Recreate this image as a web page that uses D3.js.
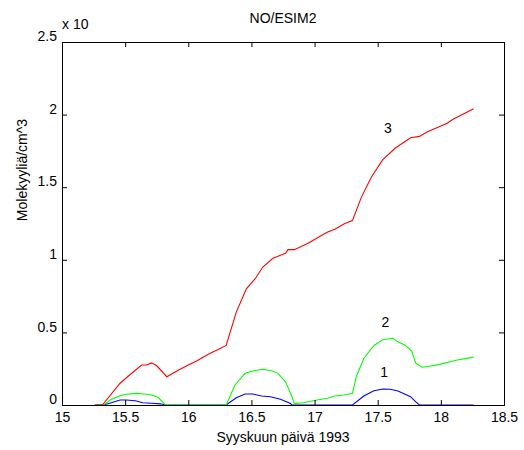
<!DOCTYPE html>
<html>
<head>
<meta charset="utf-8">
<script src="https://cdn.jsdelivr.net/npm/d3@7"></script>
<style>
  body { margin: 0; background: #fff; }
  svg { font-family: "Liberation Sans", Arial, sans-serif; }
</style>
</head>
<body>
<div id="chart"></div>
<script>
// series 1 (blue)
const s1x = [15.26, 15.33, 15.39, 15.46, 15.51, 15.58, 15.64, 15.71, 15.78, 15.82, 16.30, 16.38, 16.45, 16.51, 16.58, 16.65, 16.73, 16.81, 16.82, 17.30, 17.39, 17.47, 17.54, 17.60, 17.66, 17.76, 17.80, 17.83, 18.26];
const s1y = [0, 0, 0.016, 0.034, 0.034, 0.029, 0.016, 0.012, 0.008, 0, 0, 0.05, 0.076, 0.076, 0.062, 0.057, 0.039, 0.01, 0, 0, 0.062, 0.098, 0.11, 0.108, 0.096, 0.057, 0.023, 0, 0];

// series 2 (green)
const s2x = [15.26, 15.33, 15.39, 15.46, 15.51, 15.59, 15.63, 15.70, 15.76, 15.82, 16.30, 16.37, 16.45, 16.51, 16.59, 16.66, 16.71, 16.77, 16.81, 16.84, 16.91, 17.02, 17.10, 17.16, 17.23, 17.30, 17.33, 17.39, 17.47, 17.54, 17.62, 17.66, 17.72, 17.77, 17.80, 17.85, 17.90, 17.99, 18.13, 18.26];
const s2y = [0, 0, 0.04, 0.064, 0.074, 0.08, 0.078, 0.071, 0.053, 0, 0, 0.138, 0.218, 0.234, 0.246, 0.236, 0.218, 0.16, 0.08, 0.01, 0.016, 0.034, 0.046, 0.062, 0.069, 0.08, 0.195, 0.32, 0.41, 0.45, 0.46, 0.435, 0.41, 0.37, 0.29, 0.26, 0.265, 0.28, 0.31, 0.33];

// series 3 (red)
const s3x = [15.26, 15.32, 15.46, 15.54, 15.63, 15.67, 15.71, 15.75, 15.83, 15.92, 16.00, 16.07, 16.12, 16.17, 16.22, 16.30, 16.38, 16.46, 16.53, 16.59, 16.67, 16.77, 16.79, 16.84, 16.94, 16.98, 17.04, 17.10, 17.16, 17.24, 17.30, 17.37, 17.45, 17.54, 17.64, 17.76, 17.83, 17.89, 18.05, 18.10, 18.26];
const s3y = [0, 0, 0.15, 0.21, 0.275, 0.275, 0.29, 0.27, 0.195, 0.24, 0.275, 0.305, 0.33, 0.355, 0.375, 0.41, 0.64, 0.80, 0.87, 0.95, 1.01, 1.045, 1.07, 1.07, 1.11, 1.13, 1.16, 1.19, 1.21, 1.25, 1.27, 1.43, 1.57, 1.69, 1.77, 1.84, 1.85, 1.88, 1.94, 1.97, 2.04];

const xTicks = [15, 15.5, 16, 16.5, 17, 17.5, 18, 18.5];
const yTicks = [0, 0.5, 1, 1.5, 2, 2.5];

// curve labels
const labelText = ["1", "2", "3"];
const labelX = [17.55, 17.56, 17.58];
const labelY = [0.19, 0.54, 1.87];

const W = 524, H = 450;
const margin = { left: 62, right: 20, top: 42, bottom: 45 };
const fs = '14px';

const svg = d3.select('#chart').append('svg')
  .attr('width', W)
  .attr('height', H);

svg.append('rect').attr('width', W).attr('height', H).attr('fill', '#fff');

const x = d3.scaleLinear().domain([15, 18.5]).range([margin.left, W - margin.right]);
const y = d3.scaleLinear().domain([0, 2.5]).range([H - margin.bottom, margin.top]);

const line = d3.line()
  .x(d => x(d[0]))
  .y(d => y(d[1]));

// plotted in matlab order: blue, green, red
const series = [
  { xs: s1x, ys: s1y, color: '#0000ff' },
  { xs: s2x, ys: s2y, color: '#00ff00' },
  { xs: s3x, ys: s3y, color: '#ff0000' }
];

series.forEach(s => {
  svg.append('path')
    .datum(d3.zip(s.xs, s.ys))
    .attr('fill', 'none')
    .attr('stroke', s.color)
    .attr('stroke-width', 1.1)
    .attr('d', line);
});

// axes box with inward ticks
const tick = 5;
svg.append('g')
  .attr('transform', `translate(0,${y(0)})`)
  .call(d3.axisBottom(x).tickValues(xTicks).tickSize(-tick).tickPadding(7).tickFormat(d3.format('')));
svg.append('g')
  .attr('transform', `translate(0,${y(2.5)})`)
  .call(d3.axisTop(x).tickValues(xTicks).tickSize(-tick).tickFormat(''));
svg.append('g')
  .attr('transform', `translate(${x(15)},0)`)
  .call(d3.axisLeft(y).tickValues(yTicks).tickSize(-tick).tickPadding(5).tickFormat(d3.format('')));
svg.append('g')
  .attr('transform', `translate(${x(18.5)},0)`)
  .call(d3.axisRight(y).tickValues(yTicks).tickSize(-tick).tickFormat(''));

svg.selectAll('.domain').attr('stroke', '#000').attr('stroke-width', 1);
svg.selectAll('.tick line').attr('stroke', '#000');
svg.selectAll('.tick text')
  .attr('fill', '#000')
  .style('font-size', fs)
  .style('font-family', '"Liberation Sans", Arial, sans-serif');
// y labels sit slightly above their ticks
svg.selectAll('.tick text').filter(function () { return d3.select(this).attr('x') < 0; })
  .attr('dy', '-0.1em');

// exponent note
svg.append('text')
  .attr('x', 62).attr('y', 29)
  .style('font-size', fs)
  .text('x 10');

// title
svg.append('text')
  .attr('x', (x(15) + x(18.5)) / 2).attr('y', 23)
  .attr('text-anchor', 'middle')
  .style('font-size', fs)
  .text('NO/ESIM2');

// x label
svg.append('text')
  .attr('x', (x(15) + x(18.5)) / 2).attr('y', 442)
  .attr('text-anchor', 'middle')
  .style('font-size', fs)
  .text('Syyskuun päivä 1993');

// y label
svg.append('text')
  .attr('transform', 'translate(27,170) rotate(-90)')
  .attr('text-anchor', 'middle')
  .style('font-size', fs)
  .text('Molekyyliä/cm^3');

// curve numbers
svg.selectAll('.curve-label')
  .data(labelText)
  .enter().append('text')
  .attr('class', 'curve-label')
  .attr('x', (d, i) => x(labelX[i]))
  .attr('y', (d, i) => y(labelY[i]))
  .attr('text-anchor', 'middle')
  .style('font-size', fs)
  .text(d => d);
</script>
</body>
</html>
